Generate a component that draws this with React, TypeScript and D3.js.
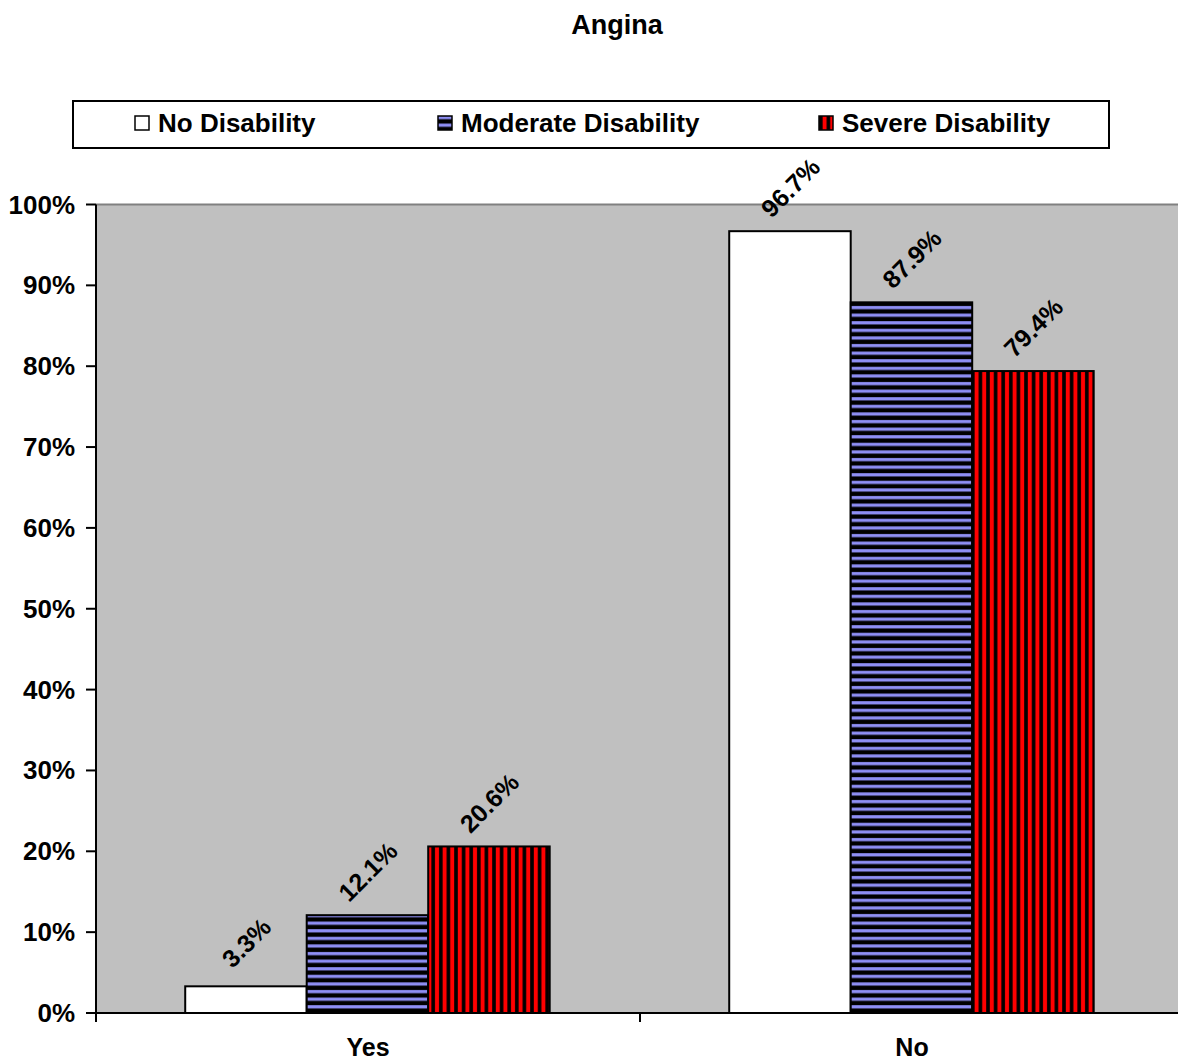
import React from "react";
import * as d3 from "d3";

const categories = ["Yes", "No"];
const seriesNames = ["No Disability", "Moderate Disability", "Severe Disability"];
const noDisability = [3.3, 96.7];
const moderateDisability = [12.1, 87.9];
const severeDisability = [20.6, 79.4];
const yTicks = [0, 10, 20, 30, 40, 50, 60, 70, 80, 90, 100];

const seriesValues = [noDisability, moderateDisability, severeDisability];
const fills = ["#FFFFFF", "url(#hstripe)", "url(#vstripe)"];
const font = "Arial, 'Liberation Sans', sans-serif";

export default function App() {
  const W = 1178, H = 1063;
  const left = 96, right = 1184, top = 204.5, bottom = 1013;
  const y = d3.scaleLinear().domain([0, 100]).range([bottom, top]);
  const x = d3.scaleBand<string>().domain(categories).range([left, right]);
  const bw = x.bandwidth();
  const xi = d3.scaleBand<string>().domain(seriesNames).range([bw * 0.164, bw * 0.834]);

  return (
    <svg width={W} height={H} style={{ position: "absolute", left: 0, top: 0 }} fontFamily={font}>
      <defs>
        <pattern id="hstripe" patternUnits="userSpaceOnUse" width={8} height={7.6}>
          <rect width={8} height={7.6} fill="#000" />
          <rect y={2} width={8} height={3.2} fill="#8F8FF5" />
        </pattern>
        <pattern id="vstripe" patternUnits="userSpaceOnUse" width={7.6} height={8}>
          <rect width={7.6} height={8} fill="#000" />
          <rect x={1.8} width={4} height={8} fill="#FF0000" />
        </pattern>
      </defs>
      <rect width={W} height={H} fill="#fff" />
      <text x={617} y={34} textAnchor="middle" fontWeight="bold" fontSize={27}>Angina</text>

      {/* legend */}
      <rect x={73} y={101} width={1036} height={47} fill="#fff" stroke="#000" strokeWidth={2} />
      {seriesNames.map((s, i) => {
        const lx = [135, 438, 819][i];
        return (
          <g key={s}>
            <rect x={lx} y={116} width={14} height={14} fill={fills[i]} stroke="#000" strokeWidth={1.5} />
            <text x={lx + 23} y={132} fontWeight="bold" fontSize={26}>{s}</text>
          </g>
        );
      })}

      {/* plot area */}
      <rect x={left} y={top} width={right - left} height={bottom - top} fill="#C0C0C0" />
      <line x1={left} x2={right} y1={top} y2={top} stroke="#808080" strokeWidth={2} />

      {categories.map((c, ci) =>
        seriesNames.map((s, si) => {
          const v = seriesValues[si][ci];
          const bx = (x(c) as number) + (xi(s) as number);
          const w = xi.bandwidth();
          const yt = y(v);
          const cx = bx + w / 2;
          const ly = yt - 42;
          return (
            <g key={c + s}>
              <rect x={bx} y={yt} width={w} height={bottom - yt} fill={fills[si]} stroke="#000" strokeWidth={2} />
              <text x={cx + 2} y={ly} textAnchor="middle" dominantBaseline="middle" fontWeight="bold" fontSize={25}
                transform={`rotate(-45 ${cx + 2} ${ly})`}>{v.toFixed(1)}%</text>
            </g>
          );
        })
      )}

      {/* axes */}
      <line x1={left} x2={left} y1={top} y2={bottom + 9} stroke="#000" strokeWidth={2} />
      <line x1={left} x2={right} y1={bottom} y2={bottom} stroke="#000" strokeWidth={2} />
      {yTicks.map((t) => (
        <g key={t}>
          <line x1={left - 10} x2={left} y1={y(t)} y2={y(t)} stroke="#000" strokeWidth={2} />
          <text x={75} y={y(t)} textAnchor="end" dominantBaseline="central" fontWeight="bold" fontSize={26}>{t}%</text>
        </g>
      ))}
      {categories.slice(1).map((c) => (
        <line key={c} x1={x(c) as number} x2={x(c) as number} y1={bottom} y2={bottom + 9} stroke="#000" strokeWidth={2} />
      ))}
      {categories.map((c) => (
        <text key={c} x={(x(c) as number) + bw / 2} y={1056} textAnchor="middle" fontWeight="bold" fontSize={25}>{c}</text>
      ))}
    </svg>
  );
}
